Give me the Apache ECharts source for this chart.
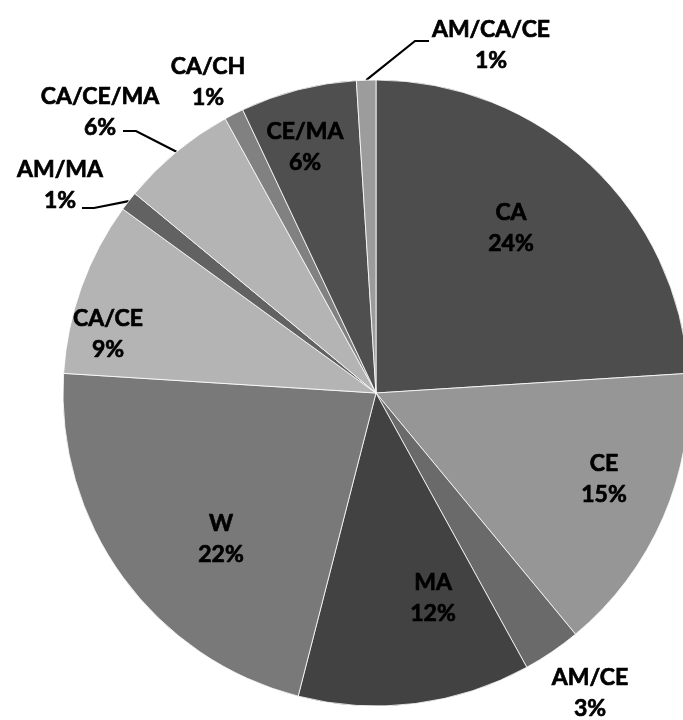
<!DOCTYPE html>
<html>
<head>
<meta charset="utf-8">
<style>
  html, body { margin: 0; padding: 0; background: #fff; }
  #chart { width: 683px; height: 720px; }
</style>
<script src="https://cdn.jsdelivr.net/npm/echarts@6/dist/echarts.min.js"></script>
</head>
<body>
<div id="chart"></div>
<script>
// Share of respondents by group (percent), clockwise from 12 o'clock
const categories = ['CA', 'CE', 'AM/CE', 'MA', 'W', 'CA/CE', 'AM/MA', 'CA/CE/MA', 'CA/CH', 'CE/MA', 'AM/CA/CE'];
const shares = [24, 15, 3, 12, 22, 9, 1, 6, 1, 6, 1];

// Fill for each slice, in the same order
const sliceColors = ['#4d4d4d', '#969696', '#6a6a6a', '#424242', '#797979', '#b4b4b4',
                     '#626262', '#b4b4b4', '#818181', '#4f4f4f', '#9c9c9c'];

// Where each label block is centred, and the leader line shape (elbow, end) if any
const labelPlacement = [
  { x: 511, y: 228 },
  { x: 604, y: 479 },
  { x: 590, y: 693 },
  { x: 433, y: 598 },
  { x: 221, y: 539 },
  { x: 108, y: 334 },
  { x: 60,  y: 185, line: [[94, 208], [82, 208]] },
  { x: 100, y: 112, line: [[136, 131], [123, 131]] },
  { x: 208, y: 82 },
  { x: 305, y: 147 },
  { x: 491, y: 45,  line: [[415, 41], [429, 41]] }
];

const chart = echarts.init(document.getElementById('chart'), null, { renderer: 'canvas' });

const seriesData = categories.map((name, i) => ({
  name: name,
  value: shares[i],
  itemStyle: { color: sliceColors[i] },
  labelLine: { show: !!labelPlacement[i].line }
}));

chart.setOption({
  animation: false,
  backgroundColor: '#ffffff',
  series: [{
    type: 'pie',
    center: [376, 393],
    radius: 313,
    startAngle: 90,
    clockwise: true,
    avoidLabelOverlap: false,
    data: seriesData,
    itemStyle: { borderColor: '#ffffff', borderWidth: 0.8 },
    label: {
      show: true,
      position: 'outside',
      formatter: '{b}\n{c}%',
      fontFamily: 'Lato, "Open Sans", sans-serif',
      fontWeight: 'bold',
      fontSize: 23,
      lineHeight: 31,
      color: '#000000',
      textBorderColor: '#000000',
      textBorderWidth: 0.7,
      align: 'center'
    },
    labelLine: {
      show: true,
      length: 10,
      length2: 10,
      lineStyle: { color: '#000000', width: 2.2 }
    },
    labelLayout: function (params) {
      const p = labelPlacement[params.dataIndex];
      const out = { x: p.x, y: p.y, align: 'center', verticalAlign: 'middle' };
      if (p.line && params.labelLinePoints) {
        out.labelLinePoints = [params.labelLinePoints[0], p.line[0], p.line[1]];
      }
      return out;
    }
  }]
});
</script>
</body>
</html>
